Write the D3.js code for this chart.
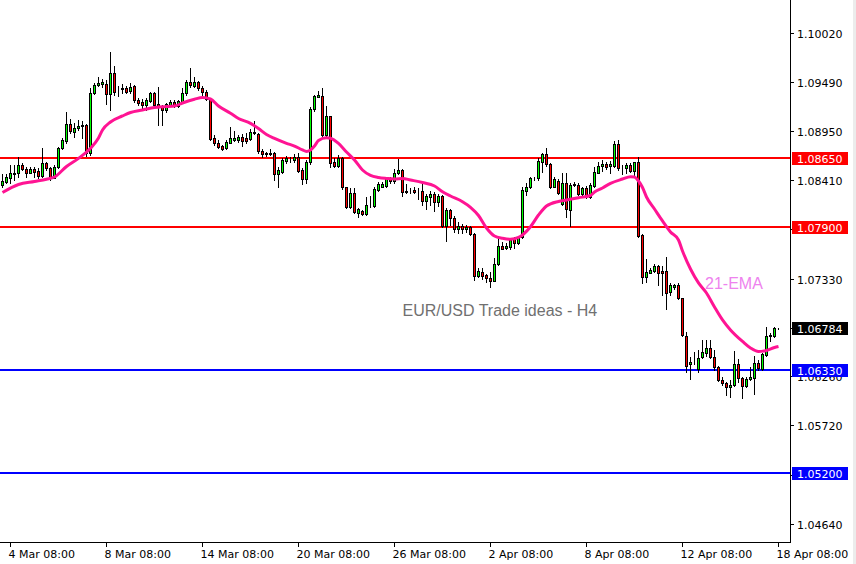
<!DOCTYPE html>
<html><head><meta charset="utf-8">
<script src="https://cdn.jsdelivr.net/npm/d3@7"></script>
<style>html,body{margin:0;padding:0;background:#fff;overflow:hidden}</style>
</head><body><svg id="c" width="856" height="564"></svg>
<script>
// ---- DATA (EUR/USD H4, 195 bars) ----
const barOpen = [1.08353,1.08393,1.08437,1.08481,1.08485,1.08576,1.08529,1.08492,1.08529,1.08510,
1.08459,1.08595,1.08546,1.08437,1.08551,1.08759,1.08843,1.09022,1.08935,1.08979,
1.09007,1.09011,1.08711,1.09362,1.09454,1.09461,1.09465,1.09351,1.09585,1.09388,
1.09415,1.09417,1.09388,1.09443,1.09289,1.09267,1.09231,1.09281,1.09369,1.09245,
1.09209,1.09179,1.09237,1.09267,1.09227,1.09270,1.09362,1.09483,1.09446,1.09483,
1.09417,1.09373,1.09300,1.08869,1.08814,1.08784,1.08759,1.08821,1.08850,1.08850,
1.08883,1.08875,1.08864,1.08924,1.08916,1.08733,1.08704,1.08704,1.08704,1.08477,
1.08502,1.08623,1.08638,1.08631,1.08667,1.08521,1.08419,1.08606,1.09187,1.09325,
1.09333,1.08905,1.09113,1.08609,1.08568,1.08649,1.08331,1.08112,1.08265,1.08053,
1.08068,1.08035,1.08137,1.08126,1.08302,1.08338,1.08346,1.08433,1.08400,1.08492,
1.08521,1.08276,1.08291,1.08302,1.08294,1.08294,1.08184,1.08228,1.08258,1.08173,
1.08236,1.07910,1.08082,1.07991,1.07871,1.07910,1.07871,1.07892,1.07816,1.07362,
1.07399,1.07369,1.07333,1.07307,1.07487,1.07687,1.07669,1.07680,1.07761,1.07717,
1.07783,1.08291,1.08331,1.08430,1.08430,1.08612,1.08697,1.08584,1.08338,1.08404,
1.08148,1.08375,1.08082,1.08357,1.08357,1.08258,1.08320,1.08228,1.08346,1.08492,
1.08562,1.08587,1.08565,1.08568,1.08806,1.08546,1.08540,1.08579,1.08513,1.08606,
1.07808,1.07351,1.07394,1.07416,1.07468,1.07413,1.07413,1.07180,1.07234,1.07260,
1.07114,1.06703,1.06390,1.06418,1.06335,1.06466,1.06517,1.06565,1.06473,1.06357,
1.06217,1.06181,1.06137,1.06162,1.06390,1.06243,1.06155,1.06228,1.06243,1.06407,
1.06338,1.06495,1.06703,1.06703,1.06784];
const barHigh = [1.08477,1.08477,1.08576,1.08576,1.08667,1.08595,1.08557,1.08557,1.08557,1.08546,
1.08766,1.08606,1.08557,1.08576,1.08777,1.08869,1.09161,1.09077,1.09033,1.09070,
1.09062,1.09022,1.09417,1.09472,1.09545,1.09516,1.09510,1.09812,1.09662,1.09443,
1.09461,1.09443,1.09472,1.09454,1.09308,1.09297,1.09308,1.09380,1.09380,1.09428,
1.09234,1.09253,1.09289,1.09289,1.09289,1.09417,1.09508,1.09643,1.09545,1.09501,
1.09443,1.09399,1.09308,1.08905,1.08850,1.08795,1.08850,1.08996,1.08949,1.08905,
1.08913,1.08924,1.08968,1.09059,1.08924,1.08751,1.08722,1.08751,1.08722,1.08557,
1.08649,1.08675,1.08667,1.08693,1.08704,1.08540,1.08631,1.09215,1.09344,1.09391,
1.09417,1.09223,1.09117,1.08649,1.08686,1.08660,1.08338,1.08320,1.08320,1.08101,
1.08082,1.08228,1.08236,1.08338,1.08393,1.08386,1.08430,1.08448,1.08532,1.08638,
1.08529,1.08364,1.08320,1.08331,1.08320,1.08386,1.08258,1.08294,1.08283,1.08258,
1.08247,1.08101,1.08093,1.08016,1.07954,1.07925,1.07918,1.07907,1.07827,1.07443,
1.07443,1.07380,1.07405,1.07552,1.07783,1.07735,1.07717,1.07772,1.07783,1.07797,
1.08338,1.08375,1.08441,1.08448,1.08649,1.08711,1.08759,1.08601,1.08448,1.08419,
1.08485,1.08485,1.08375,1.08393,1.08375,1.08338,1.08346,1.08375,1.08557,1.08612,
1.08627,1.08612,1.08623,1.08839,1.08850,1.08576,1.08595,1.08595,1.08612,1.08660,
1.07816,1.07541,1.07443,1.07490,1.07479,1.07468,1.07570,1.07278,1.07270,1.07278,
1.07117,1.06747,1.06473,1.06528,1.06546,1.06656,1.06656,1.06656,1.06546,1.06371,
1.06254,1.06199,1.06217,1.06535,1.06444,1.06254,1.06247,1.06363,1.06481,1.06437,
1.06510,1.06795,1.06736,1.06802,1.06790];
const barLow = [1.08338,1.08382,1.08375,1.08411,1.08448,1.08521,1.08448,1.08485,1.08448,1.08430,
1.08448,1.08521,1.08411,1.08430,1.08540,1.08748,1.08814,1.08924,1.08886,1.08960,
1.08869,1.08675,1.08686,1.09351,1.09443,1.09435,1.09245,1.09179,1.09344,1.09333,
1.09369,1.09362,1.09362,1.09270,1.09234,1.09179,1.09179,1.09270,1.09209,1.09015,
1.09015,1.09161,1.09223,1.09215,1.09209,1.09259,1.09344,1.09435,1.09435,1.09399,
1.09344,1.09289,1.08850,1.08795,1.08759,1.08740,1.08751,1.08814,1.08843,1.08832,
1.08784,1.08821,1.08850,1.08916,1.08711,1.08660,1.08678,1.08682,1.08411,1.08338,
1.08492,1.08595,1.08612,1.08612,1.08502,1.08364,1.08375,1.08587,1.09172,1.09319,
1.08894,1.08894,1.08551,1.08557,1.08557,1.08316,1.08101,1.08107,1.08053,1.08009,
1.08027,1.08024,1.08119,1.08112,1.08294,1.08331,1.08338,1.08375,1.08382,1.08477,
1.08236,1.08265,1.08265,1.08265,1.08200,1.08137,1.08093,1.08137,1.08075,1.08126,
1.07892,1.07746,1.07918,1.07844,1.07833,1.07827,1.07844,1.07808,1.07314,1.07351,
1.07322,1.07296,1.07241,1.07303,1.07479,1.07651,1.07654,1.07651,1.07662,1.07709,
1.07772,1.08247,1.08320,1.08411,1.08411,1.08502,1.08565,1.08320,1.08331,1.08258,
1.08137,1.08002,1.07910,1.08346,1.08247,1.08228,1.08211,1.08211,1.08338,1.08485,
1.08513,1.08529,1.08485,1.08557,1.08521,1.08474,1.08492,1.08502,1.08466,1.07783,
1.07285,1.07296,1.07391,1.07405,1.07260,1.07150,1.06993,1.07150,1.07216,1.07103,
1.06703,1.06308,1.06225,1.06390,1.06308,1.06455,1.06481,1.06455,1.06327,1.06206,
1.06162,1.06053,1.06028,1.06152,1.06199,1.06017,1.06137,1.06217,1.06064,1.06327,
1.06327,1.06481,1.06648,1.06692,1.06780];
const barClose = [1.08400,1.08448,1.08485,1.08492,1.08576,1.08529,1.08492,1.08529,1.08502,1.08455,
1.08595,1.08540,1.08430,1.08557,1.08759,1.08850,1.09022,1.08949,1.08985,1.09001,
1.09010,1.08711,1.09362,1.09454,1.09479,1.09483,1.09351,1.09585,1.09380,1.09385,
1.09418,1.09380,1.09435,1.09289,1.09259,1.09231,1.09289,1.09369,1.09234,1.09209,
1.09179,1.09245,1.09267,1.09231,1.09281,1.09369,1.09483,1.09454,1.09483,1.09417,
1.09373,1.09300,1.08864,1.08814,1.08777,1.08751,1.08825,1.08869,1.08875,1.08883,
1.08843,1.08839,1.08935,1.08941,1.08726,1.08697,1.08693,1.08701,1.08474,1.08521,
1.08631,1.08649,1.08640,1.08660,1.08513,1.08419,1.08609,1.09187,1.09333,1.09341,
1.08905,1.09113,1.08601,1.08568,1.08649,1.08331,1.08112,1.08265,1.08057,1.08090,
1.08038,1.08134,1.08140,1.08313,1.08368,1.08368,1.08422,1.08400,1.08492,1.08521,
1.08276,1.08291,1.08289,1.08280,1.08290,1.08184,1.08236,1.08258,1.08173,1.08236,
1.07907,1.08082,1.07991,1.07874,1.07910,1.07874,1.07899,1.07816,1.07362,1.07413,
1.07362,1.07333,1.07307,1.07487,1.07687,1.07658,1.07691,1.07753,1.07717,1.07783,
1.08302,1.08331,1.08430,1.08433,1.08620,1.08697,1.08584,1.08338,1.08422,1.08265,
1.08375,1.08090,1.08357,1.08368,1.08258,1.08320,1.08228,1.08357,1.08496,1.08565,
1.08587,1.08557,1.08584,1.08806,1.08540,1.08548,1.08579,1.08513,1.08606,1.07800,
1.07351,1.07399,1.07424,1.07468,1.07394,1.07391,1.07169,1.07260,1.07260,1.07114,
1.06711,1.06371,1.06418,1.06415,1.06455,1.06528,1.06565,1.06466,1.06357,1.06217,
1.06181,1.06137,1.06162,1.06390,1.06243,1.06155,1.06228,1.06254,1.06407,1.06346,
1.06503,1.06703,1.06706,1.06784,1.06784];

// 21-EMA (bar number, value)
const emaBar = [1,5,9,12,14,17,20,23,25,26,28,31,33,36,39,41,44,46,49,51,53,55,58,60,63,65,67,69,72,74,76,77,78,79,80,82,83,85,87,89,91,93,95,97,99,101,103,106,109,111,113,116,118,120,122,124,126,128,130,133,135,137,140,142,145,148,149,151,153,156,158,159,160,161,162,164,166,168,170,171,173,175,177,179,181,183,186,188,190,192,194,195];
const emaValue = [1.08274,1.08362,1.08395,1.08420,1.08444,1.08560,1.08649,1.08759,1.08872,1.08960,1.09048,1.09114,1.09152,1.09179,1.09207,1.09216,1.09223,1.09256,1.09297,1.09316,1.09300,1.09223,1.09143,1.09086,1.09033,1.08976,1.08911,1.08867,1.08814,1.08784,1.08741,1.08724,1.08741,1.08784,1.08845,1.08875,1.08869,1.08812,1.08719,1.08631,1.08521,1.08461,1.08438,1.08428,1.08422,1.08428,1.08411,1.08384,1.08346,1.08283,1.08236,1.08173,1.08112,1.08022,1.07885,1.07797,1.07772,1.07761,1.07781,1.07899,1.08027,1.08126,1.08176,1.08192,1.08217,1.08241,1.08280,1.08324,1.08375,1.08422,1.08448,1.08444,1.08400,1.08329,1.08225,1.08093,1.07962,1.07841,1.07753,1.07633,1.07435,1.07282,1.07172,1.07018,1.06876,1.06766,1.06640,1.06568,1.06530,1.06541,1.06574,1.06585];

const timeLabelBars = [3,27,51,75,99,123,147,171,195];
const timeLabels = ["4 Mar 08:00","8 Mar 08:00","14 Mar 08:00","20 Mar 08:00","26 Mar 08:00","2 Apr 08:00","8 Apr 08:00","12 Apr 08:00","18 Apr 08:00"];
const priceTicks = [1.10020,1.09490,1.08950,1.08410,1.07870,1.07330,1.06790,1.06260,1.05720,1.05180,1.04640];
const resistanceLevels = [1.08650,1.07900];
const supportLevels = [1.06330,1.05200];
const lastPrice = 1.06784;
const titleText = "EUR/USD Trade ideas - H4";
const emaLabel = "21-EMA";

// ---- LAYOUT / STYLE ----
const W = 856, H = 564, plotR = 790, plotB = 542;
const axisFont = "'DejaVu Sans', Tahoma, sans-serif";
const svg = d3.select('#c');
svg.append('rect').attr('width', W).attr('height', H).attr('fill', '#fff');
svg.append('rect').attr('x', 853).attr('y', 0).attr('width', 3).attr('height', H).attr('fill', '#ececec');

const bars = d3.range(1, barOpen.length + 1);
const x = d3.scaleBand().domain(bars).range([0, 4 * bars.length]).padding(0);
const y = d3.scaleLinear().domain([1.04440, 1.10386]).range([plotB, 0]);

svg.append('defs').append('clipPath').attr('id', 'plot')
  .append('rect').attr('x', 0).attr('y', 0).attr('width', plotR).attr('height', plotB);
const plot = svg.append('g').attr('clip-path', 'url(#plot)');

// Level lines
const levels = resistanceLevels.map(v => ({v, c: '#ff0000'}))
  .concat(supportLevels.map(v => ({v, c: '#0000ff'})));
plot.selectAll('line.level').data(levels).enter().append('line')
  .attr('x1', 0).attr('x2', plotR)
  .attr('y1', d => Math.round(y(d.v))).attr('y2', d => Math.round(y(d.v)))
  .attr('stroke', d => d.c).attr('stroke-width', 2).attr('shape-rendering', 'crispEdges');

// Candles
const data = bars.map((n, i) => ({n, o: barOpen[i], h: barHigh[i], l: barLow[i], c: barClose[i]}));
const cg = plot.append('g').attr('shape-rendering', 'crispEdges');
cg.selectAll('line.wick').data(data).enter().append('line')
  .attr('x1', d => x(d.n) + 2.5).attr('x2', d => x(d.n) + 2.5)
  .attr('y1', d => Math.round(y(d.h))).attr('y2', d => Math.round(y(d.l)) + 1)
  .attr('stroke', '#000').attr('stroke-width', 1);
cg.selectAll('rect.body').data(data).enter().append('rect')
  .attr('x', d => x(d.n) + 1.5)
  .attr('y', d => Math.round(y(Math.max(d.o, d.c))) + 0.5)
  .attr('width', 2)
  .attr('height', d => Math.max(0, Math.round(y(Math.min(d.o, d.c))) - Math.round(y(Math.max(d.o, d.c)))))
  .attr('fill', d => d.c > d.o ? '#00ff00' : (d.c < d.o ? '#ff0000' : '#000'))
  .attr('stroke', '#000').attr('stroke-width', 1);

// EMA
const emaPts = emaBar.map((b, i) => [x(b) + 2.5, y(emaValue[i])]);
plot.append('path').attr('d', d3.line().curve(d3.curveMonotoneX)(emaPts))
  .attr('fill', 'none').attr('stroke', '#ff1493').attr('stroke-width', 3)
  .attr('stroke-linejoin', 'round');

// Annotations
svg.append('text').attr('x', 402.5).attr('y', 315.5).text(titleText)
  .attr('font-family', "'Liberation Sans', Arial, sans-serif").attr('font-size', 16).attr('fill', '#707070');
svg.append('text').attr('x', 705).attr('y', 289).text(emaLabel)
  .attr('font-family', "'Liberation Sans', Arial, sans-serif").attr('font-size', 16).attr('fill', '#ee82ee');

// Price tags (level lines + last price)
const tags = levels.map(d => ({v: d.v, c: d.c})).concat([{v: lastPrice, c: '#000'}]);

// Axes
const yAxis = d3.axisRight(y).tickValues(priceTicks).tickFormat(d3.format('.5f'))
  .tickSize(4).tickSizeOuter(0).tickPadding(3);
const gy = svg.append('g').attr('transform', `translate(${plotR},0)`).call(yAxis);
gy.select('.domain').remove();
gy.selectAll('.tick').attr('transform', d => `translate(0,${Math.round(y(d)) + 0.5})`);
gy.selectAll('.tick line').attr('stroke', '#000').attr('shape-rendering', 'crispEdges');
gy.selectAll('.tick text').attr('font-family', axisFont).attr('font-size', 11).attr('fill', '#000').attr('dy', '0.38em');
// labels fully hidden behind a price tag are not drawn
gy.selectAll('.tick text').filter(d => tags.some(t => Math.abs(y(t.v) - y(d)) < 4)).remove();

const xAxis = d3.axisBottom(x).tickValues(timeLabelBars)
  .tickFormat(d => timeLabels[timeLabelBars.indexOf(d)]).tickSize(5).tickSizeOuter(0).tickPadding(2);
const gx = svg.append('g').attr('transform', `translate(0,${plotB})`).call(xAxis);
gx.select('.domain').remove();
gx.selectAll('.tick line').attr('stroke', '#000').attr('shape-rendering', 'crispEdges');
gx.selectAll('.tick text').attr('font-family', axisFont).attr('font-size', 11).attr('fill', '#000')
  .attr('text-anchor', 'start').attr('x', -1.5).attr('dy', '0.78em');

// Frame
svg.append('line').attr('x1', plotR + 0.5).attr('x2', plotR + 0.5).attr('y1', 0).attr('y2', plotB + 1)
  .attr('stroke', '#000').attr('shape-rendering', 'crispEdges');
svg.append('line').attr('x1', 0).attr('x2', plotR + 1).attr('y1', plotB + 0.5).attr('y2', plotB + 0.5)
  .attr('stroke', '#000').attr('shape-rendering', 'crispEdges');

const tg = svg.append('g');
tg.selectAll('rect').data(tags).enter().append('rect')
  .attr('x', 792).attr('y', d => Math.round(y(d.v)) - 6).attr('width', 56).attr('height', 13)
  .attr('fill', d => d.c);
tg.selectAll('text').data(tags).enter().append('text')
  .attr('x', 797).attr('y', d => Math.round(y(d.v)) + 4.5)
  .text(d => d3.format('.5f')(d.v))
  .attr('font-family', axisFont).attr('font-size', 11).attr('fill', '#fff');
</script></body></html>
